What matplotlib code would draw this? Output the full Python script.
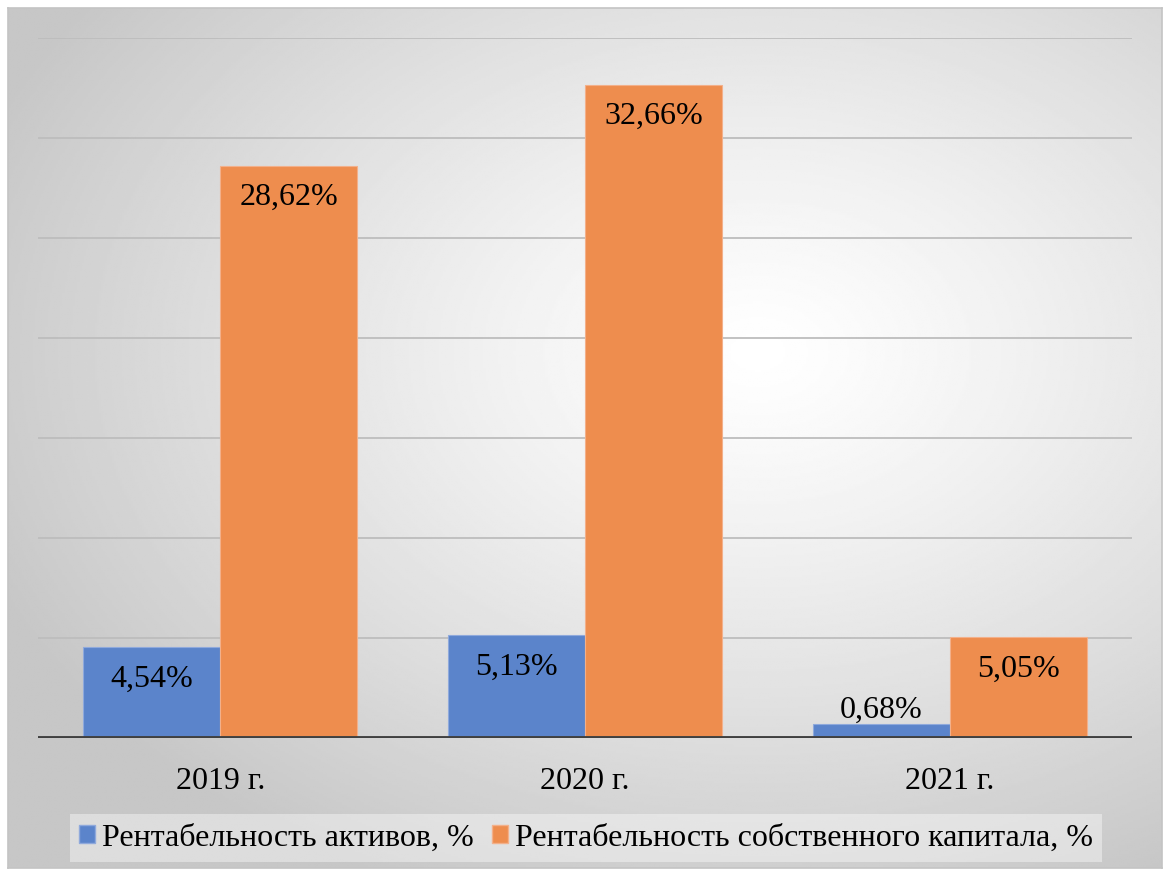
import matplotlib.pyplot as plt
import numpy as np
from matplotlib.patches import Patch

years = ["2019 г.", "2020 г.", "2021 г."]
roa = [4.54, 5.13, 0.68]
roe = [28.62, 32.66, 5.05]
roa_name = "Рентабельность активов, %"
roe_name = "Рентабельность собственного капитала, %"

blue = "#5b84cb"
orange = "#ee8d4e"

plt.rcParams["font.family"] = ["Liberation Serif", "DejaVu Serif"]

fig = plt.figure(figsize=(11.68, 8.74), dpi=100)
W, H = 1168, 874

# radial grey-to-white background inside the chart border
bg = fig.add_axes([8 / W, 6 / H, 1154 / W, 860 / H])
yy, xx = np.mgrid[0:1:400j, 0:1:540j]
r = np.sqrt(((xx - 0.65) / 1.0) ** 2 + ((yy - 0.40) / 0.95) ** 2)
shade = 1.0 - 0.22 * np.clip(r / 0.72, 0, 1) ** 1.2
bg.imshow(shade, cmap="gray", vmin=0, vmax=1, aspect="auto", extent=[0, 1, 0, 1], origin="upper")
bg.set_xticks([])
bg.set_yticks([])
for s in bg.spines.values():
    s.set_color("#c4c4c4")
    s.set_linewidth(1.2)

ax = fig.add_axes([38 / W, 136 / H, 1094 / W, 700 / H])
ax.patch.set_alpha(0)
x = np.arange(len(years))
w = 0.376

ax.set_xlim(-0.5, len(years) - 0.5)
ax.set_ylim(0, 35)
for g in range(5, 36, 5):
    ax.axhline(g, color="#bdbdbd", lw=1.3, zorder=1)

b1 = ax.bar(x - w / 2, roa, w, color=blue, edgecolor="#8fa9dc", linewidth=0.8, zorder=2)
b2 = ax.bar(x + w / 2, roe, w, color=orange, edgecolor="#f3b08a", linewidth=0.8, zorder=2)
ax.axhline(0, color="#404040", lw=2.8, zorder=3)

# value labels: inside the top of the bar, above it when the bar is too short
for bars, vals in [(b1, roa), (b2, roe)]:
    for rect, v in zip(bars, vals):
        cx = rect.get_x() + rect.get_width() / 2
        txt = f"{v:.2f}%".replace(".", ",")
        off = -23 if v > 2 else 10
        ax.annotate(txt, (cx, v), xytext=(0, off), textcoords="offset points",
                    ha="center", va="center", fontsize=23, color="black", zorder=4)

ax.set_xticks(x)
ax.set_xticklabels(years, fontsize=23)
ax.tick_params(axis="x", length=0, pad=21)
ax.set_yticks([])
for s in ax.spines.values():
    s.set_visible(False)

handles = [Patch(facecolor=blue, edgecolor="#8fa9dc"), Patch(facecolor=orange, edgecolor="#f3b08a")]
leg = fig.legend(handles, [roa_name, roe_name], loc="center", bbox_to_anchor=(586 / W, 1 - 838 / H),
                 ncol=2, fontsize=23, frameon=True, fancybox=False, handlelength=0.5,
                 handleheight=0.5, handletextpad=0.2, columnspacing=0.6, borderpad=0.3)
leg.get_frame().set_facecolor("white")
leg.get_frame().set_alpha(0.4)
leg.get_frame().set_edgecolor("none")

fig.savefig("out.png", dpi=100)
